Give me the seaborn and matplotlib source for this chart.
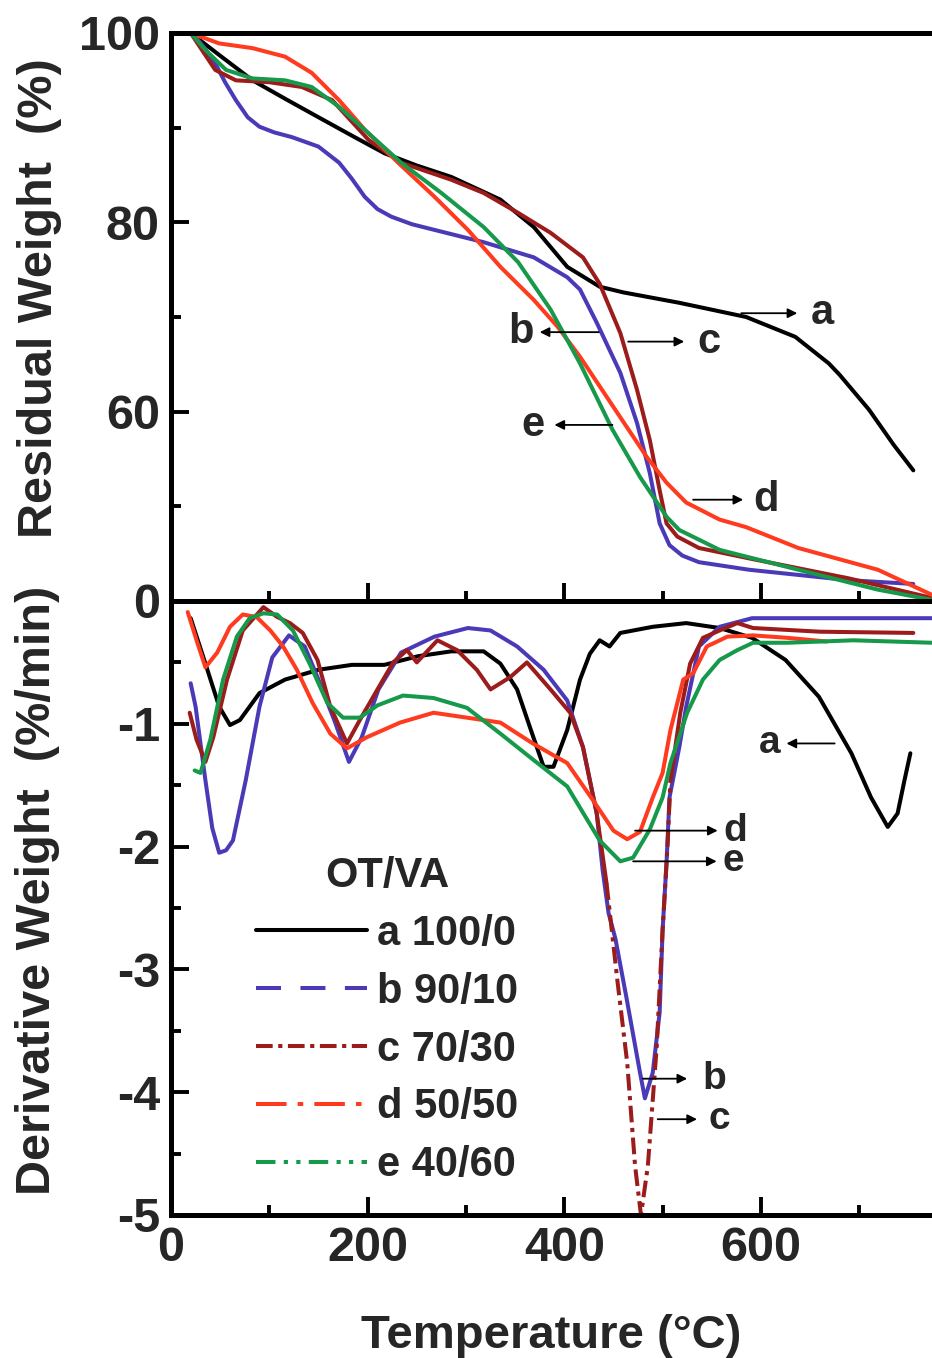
import numpy as np
import pandas as pd
import matplotlib
matplotlib.use("Agg")
import matplotlib.pyplot as plt
from matplotlib.lines import Line2D
import seaborn as sns

# ---- data (TGA / DTG of OT/VA blends) ----
SAMPLES = ["a", "b", "c", "d", "e"]
LEGEND_LABELS = ["a 100/0", "b 90/10", "c 70/30", "d 50/50", "e 40/60"]
COLORS = {"a": "#000000", "b": "#4a3ab8", "c": "#9c1c1c", "d": "#ff3b1f", "e": "#16994a"}

# residual weight (%)
tga_a_T = [20, 50, 83, 117, 150, 185, 217, 250, 285, 335, 369, 403, 436, 460, 517, 585, 635, 669,
           680, 710, 735, 755]
tga_a_W = [100, 97.6, 95.0, 93.0, 91.1, 89.1, 87.3, 86.0, 84.8, 82.4, 79.5, 75.3, 73.2, 72.6, 71.5,
           70.0, 67.9, 65.1, 63.9, 60.2, 56.5, 53.8]
tga_b_T = [20, 25, 35, 45, 55, 66, 78, 90, 105, 123, 150, 171, 184, 197, 210, 224, 245, 268, 318, 369,
           403, 416, 433, 457, 474, 487, 497, 507, 520, 537, 588, 689, 755]
tga_b_W = [100, 99.6, 98.3, 96.8, 94.8, 92.9, 91.1, 90.1, 89.5, 89.0, 88.0, 86.3, 84.6, 82.7, 81.4,
           80.6, 79.8, 79.2, 77.9, 76.3, 74.2, 72.9, 69.4, 64.1, 58.8, 53.5, 48.2, 45.9, 44.8, 44.1,
           43.3, 42.2, 41.8]
tga_c_T = [20, 45, 66, 100, 133, 164, 201, 234, 285, 318, 353, 386, 419, 436, 457, 474, 487, 497, 504,
           515, 537, 588, 689, 775]
tga_c_W = [100, 96.1, 95.0, 94.8, 94.3, 92.9, 88.7, 86.3, 84.5, 83.1, 81.0, 78.9, 76.3, 73.5, 68.3,
           62.3, 57.0, 51.7, 48.2, 46.8, 45.6, 44.5, 42.4, 40.3]
tga_d_T = [20, 49, 83, 116, 143, 171, 197, 231, 268, 302, 335, 369, 393, 416, 457, 484, 504, 524, 558,
           585, 638, 719, 775]
tga_d_W = [100, 98.9, 98.4, 97.5, 95.8, 92.9, 89.8, 86.3, 82.7, 79.2, 75.3, 71.8, 69.0, 65.8, 59.4,
           55.2, 52.5, 50.4, 48.6, 47.8, 45.6, 43.3, 40.6]
tga_e_T = [20, 35, 56, 83, 116, 143, 171, 201, 234, 275, 318, 353, 386, 416, 449, 477, 504, 517, 558,
           638, 719, 775]
tga_e_W = [100, 98.2, 96.1, 95.2, 95.0, 94.3, 92.2, 89.4, 86.3, 83.1, 79.5, 75.8, 70.8, 65.1, 58.1,
           53.1, 48.9, 47.5, 45.4, 43.3, 41.2, 40.1]

# derivative weight (%/min)
dtg_a_T = [20, 35, 49, 60, 70, 90, 116, 150, 184, 217, 251, 285, 318, 335, 352, 366, 379, 389, 403,
           416, 426, 436, 446, 457, 490, 524, 558, 591, 625, 659, 692, 712, 729, 739, 746, 752]
dtg_a_D = [-0.14, -0.51, -0.86, -1.01, -0.97, -0.75, -0.64, -0.56, -0.52, -0.52, -0.45, -0.41, -0.41,
           -0.51, -0.72, -1.05, -1.35, -1.35, -1.05, -0.64, -0.43, -0.32, -0.37, -0.26, -0.21, -0.18,
           -0.22, -0.30, -0.48, -0.78, -1.24, -1.60, -1.84, -1.73, -1.46, -1.24]
dtg_b_T = [20, 25, 35, 42, 49, 56, 63, 76, 90, 103, 120, 136, 150, 167, 181, 194, 211, 234, 268, 302,
           325, 352, 379, 403, 419, 433, 439, 445, 452, 463, 477, 482, 490, 497, 500, 504, 507, 517,
           524, 537, 558, 591, 659, 775]
dtg_b_D = [-0.67, -0.86, -1.46, -1.85, -2.05, -2.03, -1.95, -1.46, -0.86, -0.46, -0.28, -0.37, -0.64,
           -0.99, -1.31, -1.11, -0.72, -0.42, -0.29, -0.22, -0.24, -0.37, -0.56, -0.81, -1.19, -1.73,
           -2.19, -2.54, -2.75, -3.22, -3.84, -4.05, -3.84, -3.35, -2.68, -2.13, -1.60, -1.19, -0.86,
           -0.37, -0.21, -0.14, -0.14, -0.14]
dtg_c_T = [19, 26, 35, 43, 57, 73, 94, 108, 121, 134, 149, 162, 179, 192, 210, 226, 240, 250, 271, 291,
           311, 325, 345, 362, 386, 406, 419, 433, 443, 454, 464, 472, 478, 485, 494, 500, 505, 508, 518,
           528, 541, 558, 576, 592, 660, 755]
dtg_c_D = [-0.91, -1.13, -1.31, -1.11, -0.64, -0.24, -0.05, -0.13, -0.18, -0.26, -0.48, -0.86, -1.16,
           -0.97, -0.72, -0.50, -0.40, -0.50, -0.32, -0.40, -0.56, -0.72, -0.62, -0.50, -0.72, -0.91,
           -1.19, -1.73, -2.30, -3.09, -3.76, -4.60, -5.00, -4.60, -3.63, -2.68, -2.00, -1.46, -0.91,
           -0.51, -0.30, -0.24, -0.18, -0.22, -0.25, -0.26]
dtg_d_T = [17, 26, 35, 47, 60, 73, 87, 101, 114, 128, 144, 162, 179, 199, 233, 267, 301, 335, 368, 403,
           429, 450, 464, 477, 490, 500, 508, 521, 531, 545, 566, 592, 627, 667]
dtg_d_D = [-0.09, -0.32, -0.54, -0.42, -0.21, -0.11, -0.13, -0.24, -0.37, -0.56, -0.83, -1.08, -1.20,
           -1.11, -0.99, -0.91, -0.95, -0.99, -1.16, -1.32, -1.62, -1.87, -1.94, -1.88, -1.60, -1.40,
           -1.05, -0.64, -0.59, -0.37, -0.29, -0.28, -0.30, -0.33]
dtg_e_T = [24, 30, 40, 53, 67, 80, 94, 108, 124, 141, 159, 175, 192, 210, 236, 267, 301, 335, 368, 403,
           436, 457, 470, 487, 500, 508, 525, 541, 558, 576, 592, 627, 694, 774]
dtg_e_D = [-1.38, -1.40, -1.13, -0.64, -0.29, -0.14, -0.10, -0.11, -0.24, -0.51, -0.83, -0.95, -0.95,
           -0.85, -0.77, -0.79, -0.87, -1.08, -1.29, -1.51, -1.95, -2.12, -2.09, -1.86, -1.60, -1.32,
           -0.91, -0.64, -0.48, -0.40, -0.34, -0.34, -0.32, -0.34]

# curve labels with arrows: (letter, text x, text y, arrow tail x, arrow head x)
tga_marks = [("a", 662, 70.4, 580, 637), ("b", 356, 68.4, 435, 375), ("c", 547, 67.4, 465, 522),
             ("e", 368, 58.6, 449, 390), ("d", 605, 50.7, 531, 582)]
dtg_marks = [("a", 609, -1.16, 675, 626), ("d", 574, -1.87, 472, 556), ("e", 572, -2.12, 470, 555),
             ("b", 553, -3.89, 480, 525), ("c", 558, -4.22, 495, 535)]

# ---- style ----
sns.set_theme(style="ticks")
plt.rcParams["font.family"] = ["Liberation Sans", "DejaVu Sans"]
plt.rcParams["font.weight"] = "bold"
plt.rcParams["axes.labelweight"] = "bold"
plt.rcParams["axes.unicode_minus"] = False
plt.rcParams["lines.scale_dashes"] = False
LS = {"a": "-", "b": (0, (18, 14)), "c": (0, (12, 4, 3, 4)), "d": (0, (22, 8, 4, 8)),
      "e": (0, (14, 6, 3, 6, 3, 6))}
LW = 2.9


def long_frame(prefix, ycol):
    rows = []
    for s in SAMPLES:
        xs = globals()[f"{prefix}_{s}_T"]
        ys = globals()[f"{prefix}_{s}_{ycol}"]
        rows.append(pd.DataFrame({"T": xs, ycol: ys, "sample": s, "seg": 0}))
    return pd.concat(rows, ignore_index=True)


tga = long_frame("tga", "W")
dtg = long_frame("dtg", "D")

# the deep c trough shows its dash-dot pattern; split it off
is_c = dtg["sample"] == "c"
trough = dtg[is_c & dtg["T"].between(443, 508)]
dtg.loc[is_c & (dtg["T"] >= 508), "seg"] = 1
solid = dtg[~(is_c & dtg["T"].between(444, 507))]

fig = plt.figure(figsize=(9.32, 13.58), dpi=100)
ax1 = fig.add_axes([171 / 932, 1 - 601 / 1358, 761 / 932, 568 / 1358])
ax2 = fig.add_axes([171 / 932, 1 - 1215 / 1358, 761 / 932, 614 / 1358])

sns.lineplot(data=tga, x="T", y="W", hue="sample", palette=COLORS, estimator=None, sort=False,
             lw=LW, legend=False, ax=ax1)
sns.lineplot(data=solid, x="T", y="D", hue="sample", units="seg", palette=COLORS, estimator=None,
             sort=False, lw=LW, legend=False, ax=ax2)
sns.lineplot(data=trough, x="T", y="D", color=COLORS["c"], estimator=None, sort=False, lw=LW,
             linestyle=LS["c"], legend=False, ax=ax2)

for ax in (ax1, ax2):
    ax.set_xlim(0, 774)
    for side in ("left", "top", "bottom"):
        ax.spines[side].set_linewidth(3.6)
        ax.spines[side].set_color("black")
    ax.spines["right"].set_visible(False)
    ax.set_xticks([0, 200, 400, 600])
    ax.set_xticks([100, 300, 500, 700], minor=True)
    ax.tick_params(which="both", direction="in", width=2.8, color="black", labelsize=35,
                   top=False, right=False)
    ax.tick_params(which="major", length=13, pad=8)
    ax.tick_params(which="minor", length=7)
    ax.set_xlabel("")
    ax.set_ylabel("")

ax1.set_ylim(40, 100)
ax1.set_yticks([60, 80, 100])
ax1.set_yticks([50, 70, 90], minor=True)
ax1.tick_params(axis="x", labelbottom=False)
ax1.set_ylabel("Residual Weight  (%)", fontsize=35, fontweight="bold")
ax1.yaxis.set_label_coords(-0.143, 0.533)

ax2.set_ylim(-5, 0)
ax2.set_yticks([0, -1, -2, -3, -4, -5])
ax2.set_yticks([-0.5, -1.5, -2.5, -3.5, -4.5], minor=True)
ax2.set_ylabel("Derivative Weight  (%/min)", fontsize=35, fontweight="bold")
ax2.yaxis.set_label_coords(-0.146, 0.529)
ax2.set_xlabel("Temperature (°C)", fontsize=34, fontweight="bold")
ax2.xaxis.set_label_coords(0.5, -0.162)

for ax, marks, fs in ((ax1, tga_marks, 30), (ax2, dtg_marks, 28)):
    for letter, tx, ty, x0, x1 in marks:
        ax.text(tx, ty, letter, fontsize=fs, fontweight="bold", ha="center", va="center")
        ax.annotate("", xy=(x1, ty), xytext=(x0, ty),
                    arrowprops=dict(arrowstyle="-|>", color="black", lw=1.3, mutation_scale=14,
                                    shrinkA=0, shrinkB=0))

handles = [Line2D([], [], color=COLORS[s], lw=LW, linestyle=LS[s]) for s in SAMPLES]
ax2.legend(handles, LEGEND_LABELS, title="OT/VA", loc="upper left", bbox_to_anchor=(0.112, 0.585),
           frameon=False, prop={"weight": "bold", "size": 30},
           title_fontproperties={"weight": "bold", "size": 30}, handlelength=2.65,
           handletextpad=0.25, labelspacing=0.43, borderpad=0, borderaxespad=0)

fig.savefig("out.png", dpi=100)
